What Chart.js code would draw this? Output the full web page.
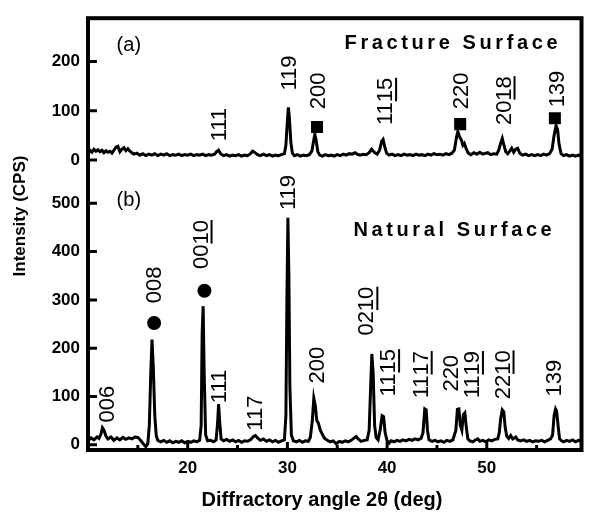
<!DOCTYPE html>
<html>
<head>
<meta charset="utf-8">
<script src="https://cdn.jsdelivr.net/npm/chart.js@4/dist/chart.umd.min.js"></script>
<style>
html,body{margin:0;padding:0;background:#fff;}
#wrap{width:590px;height:513px;}
</style>
</head>
<body>
<div id="wrap"><canvas id="c" width="590" height="513"></canvas></div>
<script>
// ---------- data ----------
// (a) Fracture surface pattern
const topAngle = [
 10.0,10.2,10.4,10.6,10.8,11.0,11.2,11.4,11.6,11.8,
 12.0,12.2,12.4,12.6,12.8,13.0,13.2,13.4,13.6,13.8,
 14.0,14.2,14.4,14.6,14.9,15.2,15.5,15.8,16.1,16.4,
 16.7,17.0,17.3,17.6,17.9,18.2,18.5,18.8,19.1,19.4,
 19.7,20.0,20.3,20.6,20.9,21.2,21.5,21.8,22.1,22.4,
 22.7,22.9,23.1,23.3,23.6,23.9,24.2,24.5,24.8,25.1,
 25.4,25.7,26.0,26.3,26.5,26.7,27.0,27.3,27.6,27.9,
 28.2,28.5,28.8,29.1,29.4,29.7,29.85,30.0,30.1,30.2,
 30.35,30.5,30.7,31.0,31.3,31.6,31.9,32.2,32.45,32.6,
 32.75,32.9,33.05,33.25,33.5,33.8,34.1,34.4,34.7,35.0,
 35.3,35.6,35.9,36.2,36.5,36.8,37.0,37.3,37.6,37.9,
 38.2,38.45,38.7,39.0,39.25,39.45,39.6,39.75,39.95,40.2,
 40.5,40.8,41.1,41.4,41.7,42.0,42.3,42.6,42.9,43.2,
 43.5,43.8,44.1,44.4,44.7,45.0,45.3,45.6,45.9,46.2,
 46.5,46.75,46.95,47.1,47.25,47.45,47.6,47.75,47.95,48.15,
 48.4,48.7,49.0,49.3,49.6,49.9,50.1,50.4,50.7,51.0,
 51.2,51.4,51.55,51.7,51.9,52.1,52.3,52.5,52.7,52.9,
 53.1,53.3,53.6,53.9,54.2,54.5,54.8,55.1,55.4,55.7,
 56.0,56.3,56.55,56.75,56.95,57.1,57.25,57.45,57.7,58.0,
 58.3,58.6,58.9,59.2,59.5
];
const topIntensity = [
 14,20,16,22,18,21,17,20,15,19,
 16,18,14,20,26,28,17,22,25,19,
 23,18,15,12,14,10,13,9,12,10,
 13,9,12,10,13,9,11,10,12,9,
 11,10,12,9,11,10,12,9,11,10,
 12,17,20,13,9,11,8,10,9,11,
 8,10,9,13,18,16,11,9,12,9,
 11,8,10,9,11,13,30,80,107,85,
 35,14,9,11,8,10,9,11,18,35,
 52,38,17,10,8,11,9,10,8,11,
 9,12,10,13,12,15,12,10,12,11,
 15,22,16,12,20,38,42,28,14,10,
 12,9,11,9,12,10,11,9,12,10,
 11,9,12,10,13,11,12,10,13,11,
 14,20,45,58,48,41,30,34,22,14,
 11,15,12,16,12,14,15,11,13,12,
 20,35,44,32,17,13,18,24,16,22,
 24,14,10,12,9,11,9,11,9,12,
 10,13,22,50,70,62,32,13,9,11,
 8,10,8,10,9
];
// (b) Natural surface pattern
const botAngle = [
 10.0,10.3,10.6,10.9,11.1,11.3,11.45,11.6,11.8,12.0,
 12.3,12.6,12.9,13.2,13.5,13.8,14.1,14.4,14.7,15.0,
 15.2,15.5,15.8,16.0,16.15,16.3,16.42,16.55,16.7,16.85,
 17.0,17.3,17.6,17.9,18.2,18.5,18.8,19.1,19.4,19.7,
 20.0,20.3,20.6,20.9,21.2,21.35,21.45,21.55,21.65,21.8,
 22.0,22.3,22.6,22.85,23.0,23.1,23.2,23.35,23.6,23.9,
 24.2,24.5,24.8,25.1,25.4,25.7,26.0,26.3,26.6,26.8,
 27.0,27.3,27.6,27.9,28.2,28.5,28.8,29.1,29.4,29.7,
 29.85,29.95,30.05,30.15,30.25,30.4,30.6,30.9,31.2,31.5,
 31.8,32.1,32.3,32.5,32.65,32.8,32.95,33.1,33.3,33.5,
 33.7,34.0,34.3,34.6,34.9,35.2,35.5,35.8,36.1,36.4,
 36.7,36.9,37.1,37.4,37.7,38.0,38.2,38.35,38.47,38.6,
 38.75,38.9,39.1,39.3,39.5,39.65,39.8,40.0,40.2,40.4,
 40.7,41.0,41.3,41.6,41.9,42.2,42.5,42.8,43.1,43.4,
 43.6,43.78,43.92,44.05,44.2,44.5,44.8,45.1,45.4,45.7,
 46.0,46.3,46.6,46.9,47.05,47.2,47.35,47.5,47.65,47.8,
 47.95,48.1,48.3,48.6,48.9,49.1,49.3,49.6,49.9,50.2,
 50.5,50.8,51.1,51.25,51.4,51.55,51.7,51.85,52.0,52.2,
 52.4,52.6,52.9,53.1,53.4,53.7,54.0,54.3,54.6,54.9,
 55.2,55.5,55.8,56.1,56.4,56.6,56.75,56.9,57.0,57.15,
 57.3,57.5,57.7,58.0,58.3,58.6,58.9,59.2,59.5
];
const botIntensity = [
 8,14,10,16,13,22,35,30,18,12,
 16,9,14,10,15,11,14,12,16,15,
 11,3,-4,2,40,150,218,160,60,18,
 9,6,9,5,8,4,7,5,8,4,
 7,5,8,6,9,40,230,287,150,20,
 8,9,6,10,45,84,50,12,8,11,
 7,10,6,9,5,8,7,10,17,19,
 14,9,12,7,10,6,9,5,8,10,
 60,300,470,350,120,20,8,6,9,5,
 8,7,15,50,96,80,50,45,30,22,
 14,9,6,8,2,7,5,8,6,9,
 14,17,12,7,9,10,30,120,188,150,
 40,15,10,30,60,58,25,8,3,8,
 6,9,7,10,8,11,9,12,10,13,
 25,74,72,30,10,7,9,6,8,5,
 9,7,10,30,73,74,40,30,62,66,
 35,12,8,6,10,12,7,9,6,10,
 8,11,12,25,55,72,68,35,18,13,
 19,12,16,10,8,10,7,9,6,8,
 7,9,6,9,12,20,60,74,70,40,
 12,8,6,9,7,10,6,9,7
];

// tick labels
const xTicks = [20, 30, 40, 50];
const xMinorTicks = [15, 25, 35, 45, 55];
const topTicks = [0, 100, 200];
const botTicks = [0, 100, 200, 300, 400, 500];

// peak indices ("|" marks where the underlined part starts)
const topPeakText = ['111', '119', '200', '11|15', '220', '20|18', '139'];
const topPeakAngle = [23.27, 30.3, 33.17, 39.9, 47.52, 51.78, 57.13];
const topPeakLevel = [38, 141, 103, 71, 103, 71, 107];
const botPeakText = ['006', '008', '00|10', '111', '117', '119', '200', '02|10', '11|15', '11|17', '220', '11|19', '22|10', '139'];
const botPeakAngle = [11.98, 16.73, 21.39, 23.27, 26.83, 30.2, 33.07, 38.02, 40.2, 43.47, 46.53, 48.61, 51.68, 56.83];
const botPeakLevel = [46, 293, 364, 86, 29, 486, 127, 226, 100, 96, 110, 96, 94, 100];

// phase markers
const squareAngle = [32.97, 47.33, 56.83];
const squareLevel = [67, 73, 85];
const circleAngle = [16.63, 21.68];
const circleLevel = [252, 319];

// panel notes
const panelNoteText = ['(a)', 'Fracture Surface', '(b)', 'Natural Surface'];
const panelNoteAngle = [12.87, 35.74, 12.87, 36.63];
const panelNoteLevel = [232, 226, 506, 433];
const panelNoteAxis = ['yTop', 'yTop', 'yBot', 'yBot'];

// ---------- chart ----------
const FAMILY = "'Liberation Sans', Arial, Helvetica, sans-serif";
Chart.defaults.font.family = FAMILY;
Chart.defaults.color = '#000';

const pts = (xs, ys) => xs.map((x, i) => ({x: x, y: ys[i]}));

function rotLabel(ctx, label, px, py) {
  const parts = label.split('|');
  ctx.save();
  ctx.translate(px, py);
  ctx.rotate(-Math.PI / 2);
  ctx.textAlign = 'left';
  ctx.textBaseline = 'middle';
  ctx.fillText(parts[0], 0, 0);
  if (parts.length > 1) {
    const w = ctx.measureText(parts[0]).width;
    ctx.fillText(parts[1], w, 0);
    const wb = ctx.measureText(parts[1]).width;
    ctx.fillRect(w + 1, 9, wb - 1, 2);
  }
  ctx.restore();
}

function spaced(ctx, text, x, y, sp) {
  let cx = x;
  for (const ch of text) {
    ctx.fillText(ch, cx, y);
    cx += ctx.measureText(ch).width + sp;
  }
}

const decor = {
  id: 'decor',
  afterDatasetsDraw(chart) {
    const ctx = chart.ctx, a = chart.chartArea, s = chart.scales;
    ctx.save();
    ctx.strokeStyle = '#000';
    ctx.fillStyle = '#000';
    // inward tick marks
    ctx.lineWidth = 3;
    ctx.beginPath();
    topTicks.forEach(v => { const y = s.yTop.getPixelForValue(v); ctx.moveTo(a.left, y); ctx.lineTo(a.left + 9, y); });
    botTicks.forEach(v => { const y = s.yBot.getPixelForValue(v); ctx.moveTo(a.left, y); ctx.lineTo(a.left + 9, y); });
    xTicks.forEach(v => { const x = s.x.getPixelForValue(v); ctx.moveTo(x, a.bottom); ctx.lineTo(x, a.bottom - 8); });
    xMinorTicks.forEach(v => { const x = s.x.getPixelForValue(v); ctx.moveTo(x, a.bottom); ctx.lineTo(x, a.bottom - 5); });
    ctx.stroke();
    // frame
    ctx.lineWidth = 4;
    ctx.strokeRect(a.left, a.top, a.right - a.left, a.bottom - a.top);

    // peak labels
    ctx.font = '22px ' + FAMILY;
    topPeakText.forEach((t, i) => rotLabel(ctx, t, s.x.getPixelForValue(topPeakAngle[i]), s.yTop.getPixelForValue(topPeakLevel[i])));
    botPeakText.forEach((t, i) => rotLabel(ctx, t, s.x.getPixelForValue(botPeakAngle[i]), s.yBot.getPixelForValue(botPeakLevel[i])));

    // panel notes
    panelNoteText.forEach((t, i) => {
      const px = s.x.getPixelForValue(panelNoteAngle[i]);
      const py = s[panelNoteAxis[i]].getPixelForValue(panelNoteLevel[i]);
      ctx.textAlign = 'left';
      if (t.charAt(0) === '(') {
        ctx.font = '20px ' + FAMILY;
        ctx.textBaseline = 'middle';
        ctx.fillText(t, px, py);
      } else {
        ctx.font = 'bold 20px ' + FAMILY;
        ctx.textBaseline = 'alphabetic';
        spaced(ctx, t, px, py, 3.6);
      }
    });

    // axis titles
    ctx.font = 'bold 20px ' + FAMILY;
    ctx.textAlign = 'center';
    ctx.textBaseline = 'alphabetic';
    ctx.fillText('Diffractory angle 2\u03B8 (deg)', 322, 506);
    ctx.save();
    ctx.translate(25, 216);
    ctx.rotate(-Math.PI / 2);
    ctx.font = 'bold 17px ' + FAMILY;
    ctx.fillText('Intensity (CPS)', 0, 0);
    ctx.restore();
    ctx.restore();
  }
};

const lineStyle = {borderColor: '#000', borderWidth: 3, pointRadius: 0, tension: 0, fill: false};
const yBase = {
  type: 'linear', position: 'left', stack: 'panels',
  grid: {display: false, drawTicks: false}, border: {display: false},
  ticks: {font: {size: 17, weight: 'bold'}, color: '#000', padding: 8},
  afterFit(sc) { sc.width = 88; }
};

new Chart(document.getElementById('c'), {
  type: 'line',
  data: {
    datasets: [
      Object.assign({label: 'Fracture Surface', data: pts(topAngle, topIntensity), yAxisID: 'yTop'}, lineStyle),
      Object.assign({label: 'Natural Surface', data: pts(botAngle, botIntensity), yAxisID: 'yBot'}, lineStyle),
      {label: 'squares', data: pts(squareAngle, squareLevel), yAxisID: 'yTop', showLine: false,
       pointStyle: 'rect', pointRadius: 8.5, backgroundColor: '#000', borderWidth: 0},
      {label: 'circles', data: pts(circleAngle, circleLevel), yAxisID: 'yBot', showLine: false,
       pointStyle: 'circle', pointRadius: 7, backgroundColor: '#000', borderWidth: 0}
    ]
  },
  options: {
    responsive: false,
    animation: false,
    devicePixelRatio: 1,
    events: [],
    layout: {padding: {top: 9, right: 3, left: 0, bottom: 0}},
    plugins: {legend: {display: false}, tooltip: {enabled: false}},
    scales: {
      x: {
        type: 'linear', min: 10, max: 59.5,
        grid: {display: false, drawTicks: false}, border: {display: false},
        ticks: {font: {size: 17, weight: 'bold'}, color: '#000', padding: 8},
        afterBuildTicks(sc) { sc.ticks = xTicks.map(v => ({value: v})); },
        afterFit(sc) { sc.height = 63; }
      },
      yBot: Object.assign({}, yBase, {
        min: -11, max: 557, stackWeight: 280, weight: 0,
        afterBuildTicks(sc) { sc.ticks = botTicks.map(v => ({value: v})); }
      }),
      yTop: Object.assign({}, yBase, {
        min: -32, max: 288, stackWeight: 161, weight: 0,
        afterBuildTicks(sc) { sc.ticks = topTicks.map(v => ({value: v})); }
      })
    }
  },
  plugins: [decor]
});
</script>
</body>
</html>
